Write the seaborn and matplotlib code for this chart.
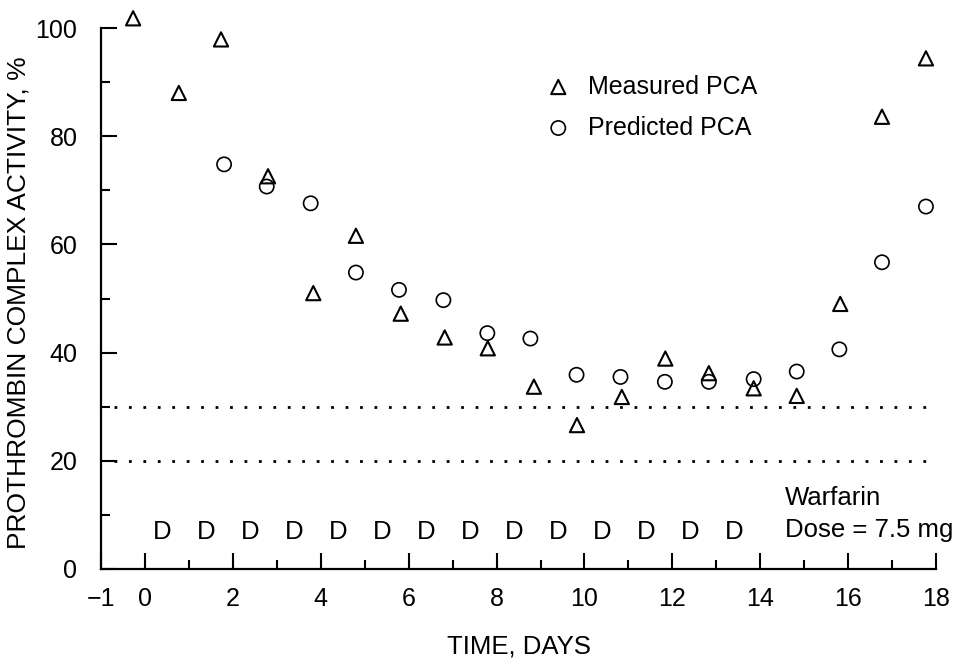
import matplotlib

matplotlib.use("Agg")
import matplotlib.pyplot as plt  # noqa: E402
import pandas as pd  # noqa: E402
import seaborn as sns  # noqa: E402

# measured prothrombin complex activity (triangles)
measured_days = [-0.27, 0.77, 1.73, 2.8, 3.83, 4.8, 5.82, 6.82, 7.8, 8.85,
                 9.83, 10.85, 11.84, 12.83, 13.85, 14.83, 15.82, 16.77, 17.77]
measured_pca = [101.8, 88.0, 97.9, 72.6, 51.0, 61.6, 47.2, 42.8, 40.8, 33.7,
                26.6, 31.8, 38.9, 36.2, 33.4, 32.0, 49.0, 83.6, 94.4]

# predicted prothrombin complex activity (circles)
predicted_days = [1.8, 2.77, 3.77, 4.8, 5.78, 6.79, 7.79, 8.77, 9.82, 10.82,
                  11.83, 12.83, 13.85, 14.83, 15.8, 16.77, 17.77]
predicted_pca = [74.8, 70.7, 67.6, 54.8, 51.6, 49.7, 43.6, 42.6, 35.9, 35.5,
                 34.6, 34.6, 35.1, 36.5, 40.6, 56.7, 67.0]

# therapeutic range limits (dotted lines)
range_limits = [20, 30]

# warfarin doses marked with "D"
dose_days = [0.4, 1.4, 2.4, 3.4, 4.4, 5.4, 6.4, 7.4, 8.4, 9.4, 10.4, 11.4, 12.4, 13.4]

x_major = [-1, 0, 2, 4, 6, 8, 10, 12, 14, 16, 18]
x_minor = [1, 3, 5, 7, 9, 11, 13, 15, 17]
y_major = [0, 20, 40, 60, 80, 100]
y_minor = [10, 30, 50, 70, 90]

measured = pd.DataFrame({"day": measured_days, "pca": measured_pca})
predicted = pd.DataFrame({"day": predicted_days, "pca": predicted_pca})

sns.set_style("ticks")
plt.rcParams["font.family"] = ["Liberation Sans", "DejaVu Sans"]
plt.rcParams.update({"text.color": "black", "axes.labelcolor": "black",
                     "xtick.color": "black", "ytick.color": "black",
                     "axes.edgecolor": "black"})

fig = plt.figure(figsize=(9.64, 6.60), dpi=100)
ax = fig.add_axes([0.1048, 0.1379, 0.8662, 0.8524])

ax.hlines(range_limits, -0.7, 17.9, colors="black", linewidth=2.0,
          linestyles=(0, (1, 4.2)))

sns.scatterplot(data=measured, x="day", y="pca", marker="^", s=105,
                facecolor="none", edgecolor="black", linewidth=1.5,
                label="Measured PCA", ax=ax, zorder=3)
sns.scatterplot(data=predicted, x="day", y="pca", marker="o", s=105,
                facecolor="none", edgecolor="black", linewidth=1.2,
                label="Predicted PCA", ax=ax, zorder=3)

for d in dose_days:
    ax.text(d, 6.9, "D", ha="center", va="center", fontsize=18.5)
ax.text(14.57, 13.1, "Warfarin", ha="left", va="center", fontsize=18.5)
ax.text(14.57, 7.2, "Dose = 7.5 mg", ha="left", va="center", fontsize=18.5)

ax.set_xlim(-1, 18)
ax.set_ylim(0, 104)
ax.set_xticks(x_major)
ax.set_xticks(x_minor, minor=True)
ax.set_yticks(y_major)
ax.set_yticks(y_minor, minor=True)

sns.despine(ax=ax)
ax.spines["left"].set_bounds(0, 100)
for side in ("left", "bottom"):
    ax.spines[side].set_linewidth(1.6)
ax.tick_params(which="major", direction="in", length=11.5, width=1.5,
               labelsize=18, pad=13)
ax.tick_params(which="minor", direction="in", length=6.5, width=1.5)
ax.tick_params(axis="y", which="major", pad=17)

ax.set_xlabel("TIME, DAYS", fontsize=18.5)
ax.set_ylabel("PROTHROMBIN COMPLEX ACTIVITY, %", fontsize=19)
ax.xaxis.set_label_coords(0.5, -0.116)
ax.yaxis.set_label_coords(-0.085, 0.473)

ax.legend(loc="upper left", bbox_to_anchor=(9.12, 91.4),
          bbox_transform=ax.transData, frameon=False, fontsize=18,
          borderpad=0, borderaxespad=0, handlelength=1.0,
          handletextpad=0.7, labelspacing=0.68)

fig.savefig("out.png", dpi=100)
